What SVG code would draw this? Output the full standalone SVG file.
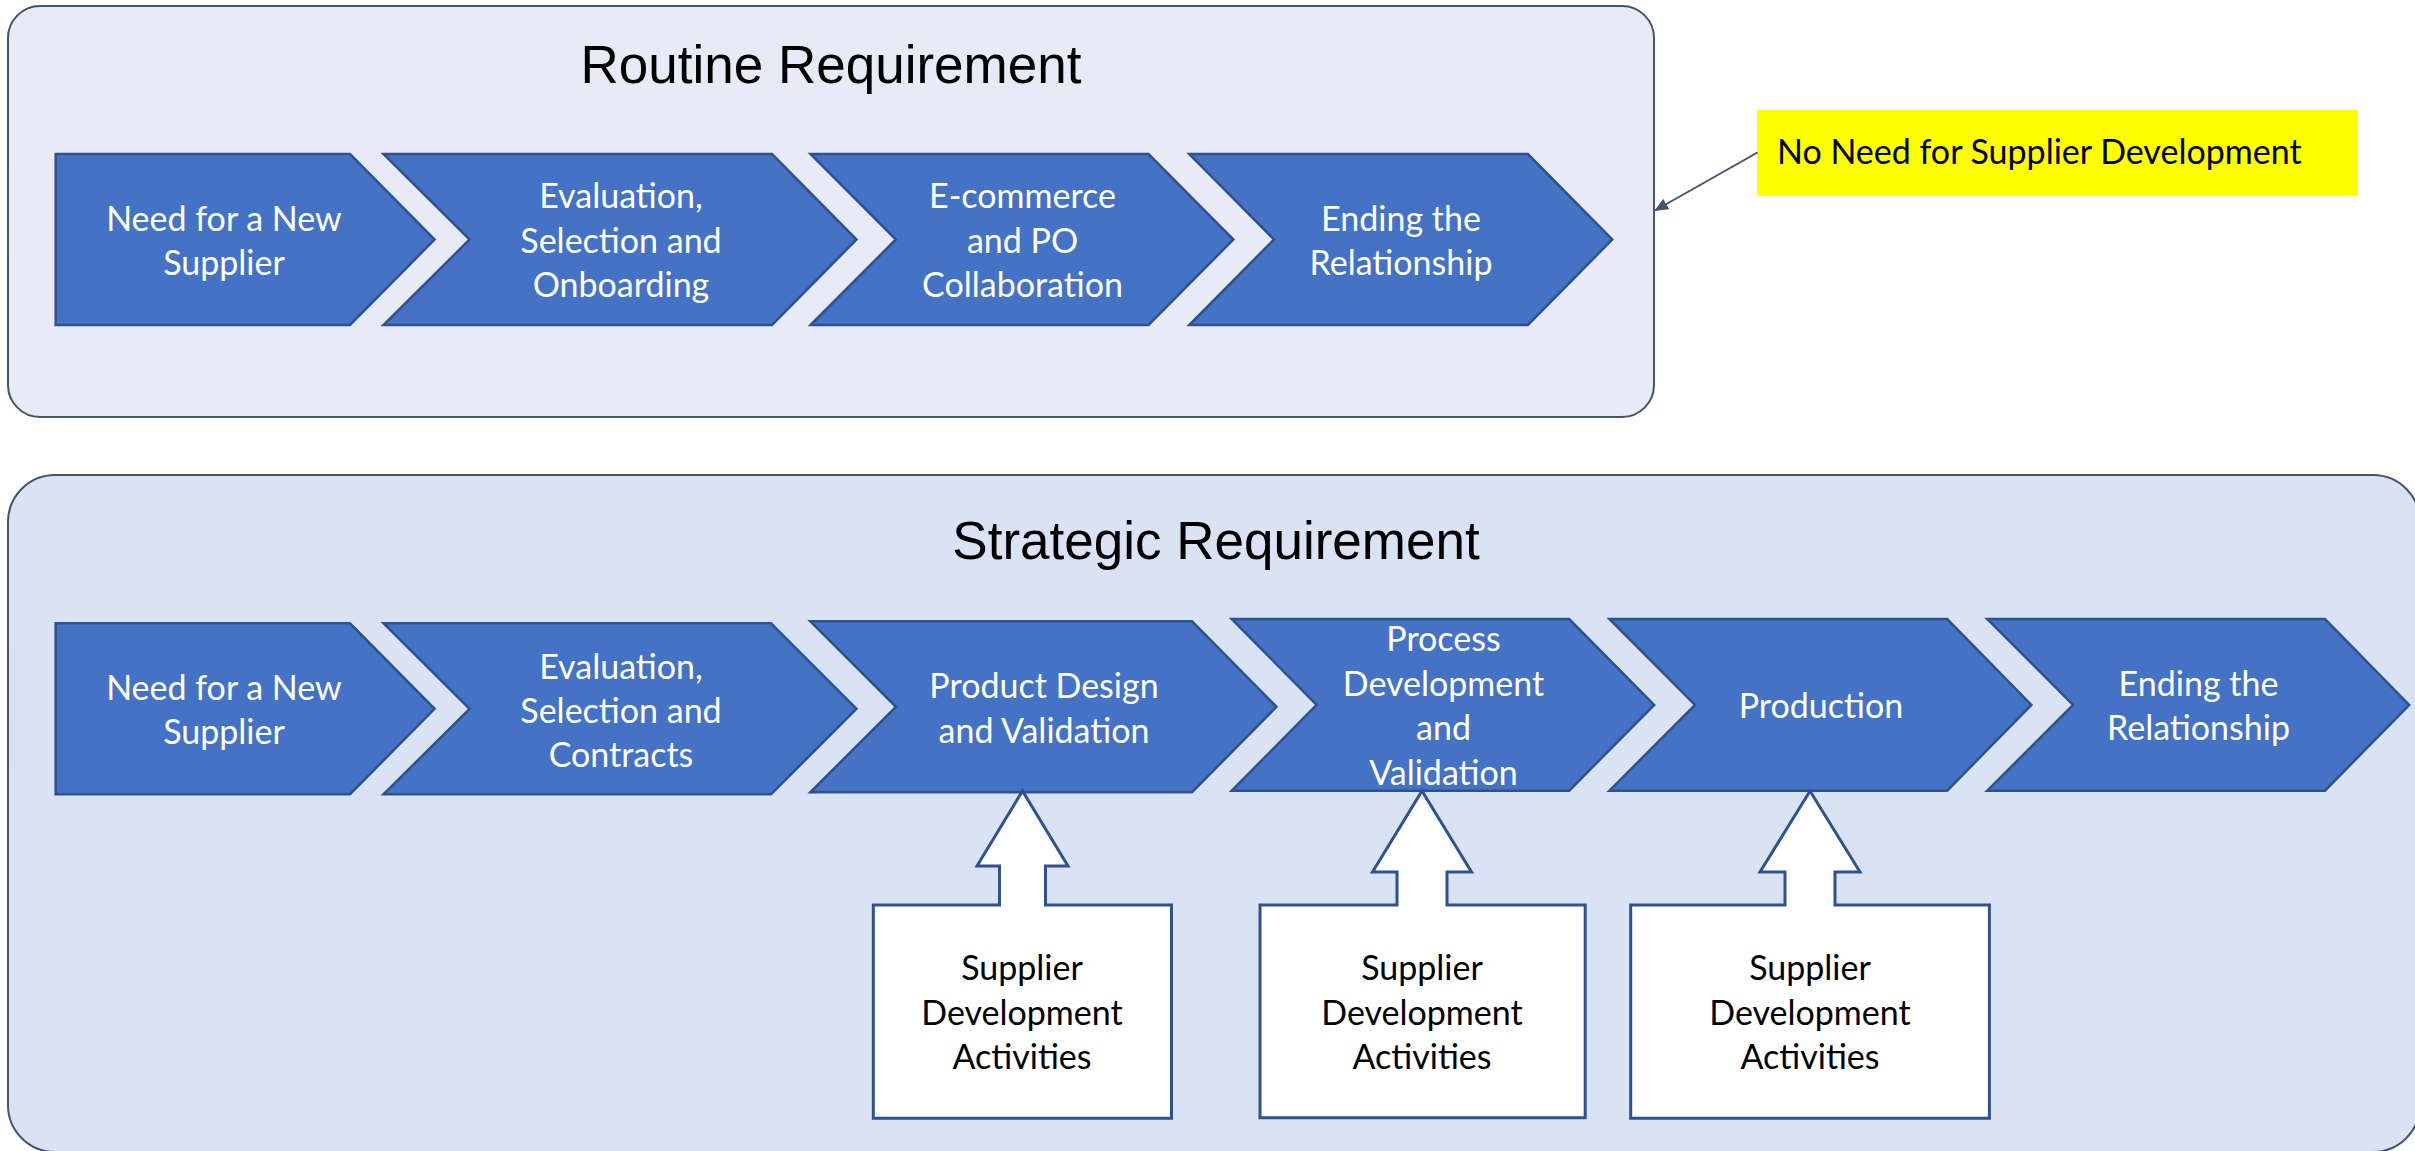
<svg xmlns="http://www.w3.org/2000/svg" width="2415" height="1151" viewBox="0 0 2415 1151">
<defs>
<style>
.container{stroke:#44546A;stroke-width:2}
.chev{fill:#4472C4;stroke:#2F528F;stroke-width:2.5}
.callout{fill:#FFFFFF;stroke:#2F528F;stroke-width:3}
.title{font-family:"Liberation Sans",Arial,sans-serif;font-size:53px;fill:#000;text-anchor:middle}
.ct{font-family:Lato,"Open Sans",sans-serif;font-size:34px;fill:#FFFFFF;text-anchor:middle}
.bt{font-family:Lato,"Open Sans",sans-serif;font-size:34px;fill:#000000;text-anchor:middle}
.note{font-family:Lato,"Open Sans",sans-serif;font-size:34px;fill:#000000}
</style>
<marker id="arr" markerWidth="14" markerHeight="12" refX="13" refY="6" orient="auto" markerUnits="userSpaceOnUse" viewBox="0 0 14 12">
<path d="M0,0 L14,6 L0,12 Z" fill="#44546A"/>
</marker>
</defs>
<rect width="2415" height="1151" fill="#FFFFFF"/>

<g id="routine-container">
<rect class="container" x="8" y="6" width="1646" height="411" rx="32" ry="32" fill="#E8EAF5"/>
<text class="title" x="831" y="83">Routine Requirement</text>
</g>

<g id="strategic-container">
<rect class="container" x="8" y="475" width="2412" height="677" rx="47" ry="47" fill="#DAE3F3"/>
<text class="title" x="1216" y="559">Strategic Requirement</text>
</g>

<g id="r1">
<polygon class="chev" points="55.7,154 350,154 434.6,239.5 350,325 55.7,325"/>
<text class="ct" x="224" y="231">Need for a New</text>
<text class="ct" x="224" y="275">Supplier</text>
</g>
<g id="r2">
<polygon class="chev" points="383.5,154 772,154 856.5,239.5 772,325 383.5,325 469.6,239.5"/>
<text class="ct" x="621" y="208">Evaluation,</text>
<text class="ct" x="621" y="252.5">Selection and</text>
<text class="ct" x="621" y="297">Onboarding</text>
</g>
<g id="r3">
<polygon class="chev" points="810.5,154 1148.5,154 1233.4,239.5 1148.5,325 810.5,325 895.9,239.5"/>
<text class="ct" x="1022.5" y="208">E-commerce</text>
<text class="ct" x="1022.5" y="252.5">and PO</text>
<text class="ct" x="1022.5" y="297">Collaboration</text>
</g>
<g id="r4">
<polygon class="chev" points="1189.2,154 1527.9,154 1612.3,239.5 1527.9,325 1189.2,325 1274,239.5"/>
<text class="ct" x="1401" y="231">Ending the</text>
<text class="ct" x="1401" y="275">Relationship</text>
</g>

<g id="note">
<rect x="1757" y="110" width="601" height="86" fill="#FFFF00"/>
<text class="note" x="1777" y="164">No Need for Supplier Development</text>
</g>

<g id="s1">
<polygon class="chev" points="55.7,623.3 350,623.3 434.6,708.8 350,794.3 55.7,794.3"/>
<text class="ct" x="224" y="700">Need for a New</text>
<text class="ct" x="224" y="744">Supplier</text>
</g>
<g id="s2">
<polygon class="chev" points="383.5,623.3 771,623.3 856.5,708.8 771,794.3 383.5,794.3 469.6,708.8"/>
<text class="ct" x="621" y="678.5">Evaluation,</text>
<text class="ct" x="621" y="723">Selection and</text>
<text class="ct" x="621" y="767">Contracts</text>
</g>
<g id="s3">
<polygon class="chev" points="810.3,621.3 1192,621.3 1276.5,706.8 1192,792.3 810.3,792.3 895.9,706.8"/>
<text class="ct" x="1044" y="698">Product Design</text>
<text class="ct" x="1044" y="743">and Validation</text>
</g>
<g id="s4">
<polygon class="chev" points="1231.7,619 1569.2,619 1654.2,704.9 1569.2,790.7 1231.7,790.7 1316.6,704.9"/>
<text class="ct" x="1443.5" y="651">Process</text>
<text class="ct" x="1443.5" y="696">Development</text>
<text class="ct" x="1443.5" y="740">and</text>
<text class="ct" x="1443.5" y="785">Validation</text>
</g>
<g id="s5">
<polygon class="chev" points="1609.4,619 1947.2,619 2031.4,704.9 1947.2,790.7 1609.4,790.7 1695,704.9"/>
<text class="ct" x="1821" y="718">Production</text>
</g>
<g id="s6">
<polygon class="chev" points="1987.2,619 2325,619 2409.2,704.9 2325,790.7 1987.2,790.7 2073,704.9"/>
<text class="ct" x="2198.5" y="696">Ending the</text>
<text class="ct" x="2198.5" y="740">Relationship</text>
</g>

<g id="sd1">
<path class="callout" d="M873.3,1118.3 L873.3,905 L999.5,905 L999.5,866 L977,866 L1022.5,791 L1068,866 L1045.5,866 L1045.5,905 L1171.5,905 L1171.5,1118.3 Z"/>
<text class="bt" x="1022" y="980">Supplier</text>
<text class="bt" x="1022" y="1025">Development</text>
<text class="bt" x="1022" y="1069">Activities</text>
</g>
<g id="sd2">
<path class="callout" d="M1260,1117.7 L1260,905 L1397,905 L1397,872 L1372.5,872 L1422,791 L1471.5,872 L1447,872 L1447,905 L1585.2,905 L1585.2,1117.7 Z"/>
<text class="bt" x="1422" y="980">Supplier</text>
<text class="bt" x="1422" y="1025">Development</text>
<text class="bt" x="1422" y="1069">Activities</text>
</g>
<g id="sd3">
<path class="callout" d="M1630.7,1118.3 L1630.7,905 L1785,905 L1785,872 L1760,872 L1810,791 L1860,872 L1835,872 L1835,905 L1989.4,905 L1989.4,1118.3 Z"/>
<text class="bt" x="1810" y="980">Supplier</text>
<text class="bt" x="1810" y="1025">Development</text>
<text class="bt" x="1810" y="1069">Activities</text>
</g>

<g id="connectors">
<line x1="1757.5" y1="152.5" x2="1655" y2="210.5" stroke="#44546A" stroke-width="2" marker-end="url(#arr)"/>
</g>
</svg>
